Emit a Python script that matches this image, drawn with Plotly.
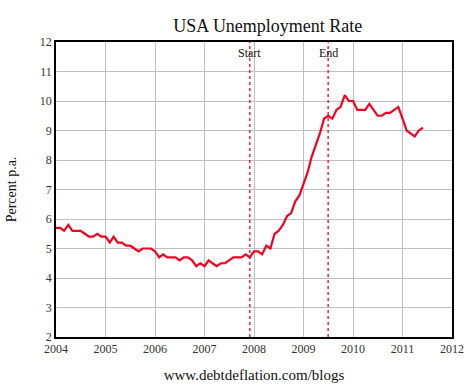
import pandas as pd
import plotly.graph_objects as go

# Monthly US unemployment rate (%), first month Dec 2003, last May 2011
start_month = "2003-12"
rate = [
    5.7,
    5.7, 5.6, 5.8, 5.6, 5.6, 5.6, 5.5, 5.4, 5.4, 5.5, 5.4, 5.4,
    5.2, 5.4, 5.2, 5.2, 5.1, 5.1, 5.0, 4.9, 5.0, 5.0, 5.0, 4.9,
    4.7, 4.8, 4.7, 4.7, 4.7, 4.6, 4.7, 4.7, 4.6, 4.4, 4.5, 4.4,
    4.6, 4.5, 4.4, 4.5, 4.5, 4.6, 4.7, 4.7, 4.7, 4.8, 4.7, 4.9,
    4.9, 4.8, 5.1, 5.0, 5.5, 5.6, 5.8, 6.1, 6.2, 6.6, 6.8, 7.2,
    7.6, 8.1, 8.5, 8.9, 9.4, 9.5, 9.4, 9.7, 9.8, 10.2, 10.0, 10.0,
    9.7, 9.7, 9.7, 9.9, 9.7, 9.5, 9.5, 9.6, 9.6, 9.7, 9.8, 9.4,
    9.0, 8.9, 8.8, 9.0, 9.1,
]
# each monthly value is plotted at the end of its month
dates = pd.date_range(start=start_month, periods=len(rate), freq="ME") + pd.Timedelta(days=1)

recession_dates = ["2007-12-01", "2009-07-01"]
recession_labels = ["Start", "End"]
year_ticks = [str(y) for y in range(2004, 2013)]
y_ticks = list(range(2, 13))

serif = "Liberation Serif, Times New Roman, serif"

fig = go.Figure()
fig.add_trace(go.Scatter(
    x=dates, y=rate, mode="lines",
    line=dict(color="#f7001f", width=2.2),
    showlegend=False, hoverinfo="skip",
))

for d, lab in zip(recession_dates, recession_labels):
    fig.add_shape(type="line", xref="x", yref="paper", x0=d, x1=d, y0=0, y1=1,
                  line=dict(color="#f7001f", width=1.3, dash="dot"))
    fig.add_annotation(x=d, y=1, xref="x", yref="paper", text=lab, showarrow=False,
                       yanchor="top", yshift=-2, font=dict(family=serif, size=12, color="#111"))

fig.update_layout(
    width=473, height=390,
    margin=dict(l=56, r=21, t=42, b=53, autoexpand=False),
    paper_bgcolor="white", plot_bgcolor="white",
    title=dict(text="USA Unemployment Rate", x=0.535, xanchor="center",
               xref="paper", yref="container", y=0.935, yanchor="middle",
               font=dict(family=serif, size=18, color="#111")),
    font=dict(family=serif, size=12, color="#333"),
)
fig.update_xaxes(
    type="date", range=["2004-01-01", "2012-01-01"],
    tickvals=[f"{y}-01-01" for y in year_ticks], ticktext=year_ticks,
    showgrid=True, gridcolor="#c0c0c0", gridwidth=1,
    showline=True, linecolor="black", linewidth=1.5, mirror=True,
    ticks="", tickfont=dict(family=serif, size=12, color="#333"),
    title=dict(text="www.debtdeflation.com/blogs", font=dict(family=serif, size=15, color="#111"), standoff=14),
    zeroline=False, automargin=False,
)
fig.update_yaxes(
    range=[2, 12], tickvals=y_ticks,
    showgrid=True, gridcolor="#c0c0c0", gridwidth=1,
    showline=True, linecolor="black", linewidth=1.5, mirror=True,
    ticks="", tickfont=dict(family=serif, size=12, color="#333"),
    title=dict(text="Percent p.a.", font=dict(family=serif, size=14, color="#111"), standoff=20),
    zeroline=False, automargin=False,
)

fig.write_html("out.html", config={"displayModeBar": False},
               post_script="document.body.style.margin='0';document.body.style.overflow='hidden';")
